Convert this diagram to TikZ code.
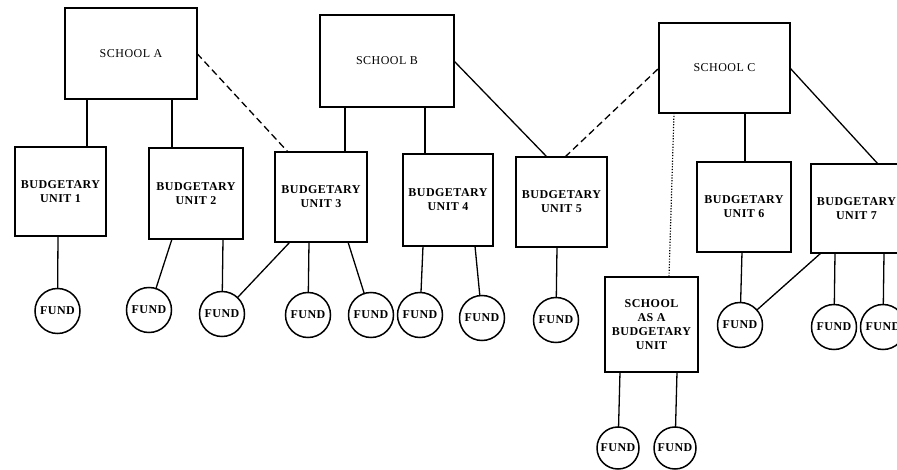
\documentclass[tikz,border=0pt]{standalone}
\usepackage{fontspec}
\setmainfont{Liberation Serif}[LetterSpace=4]
\begin{document}
\begin{tikzpicture}[x=1pt,y=-1pt,
  box/.style={draw,line width=1.6pt,inner sep=0pt,outer sep=0pt,align=center,font=\fontsize{12}{14}\selectfont},
  unitbox/.style={box,font=\fontsize{12}{14}\selectfont\bfseries},
  fund/.style={draw,circle,line width=1.5pt,minimum size=45pt,inner sep=0pt,outer sep=0pt,font=\fontsize{12}{14}\selectfont\bfseries},
  link/.style={line width=1.3pt},
  dlink/.style={line width=1.3pt,dash pattern=on 7pt off 4pt},
  olink/.style={line width=1.2pt,dash pattern=on 1.2pt off 1.6pt}]
\useasboundingbox (0,0) rectangle (897,470);
\clip (0,0) rectangle (897,470);
% schools
\node[box,minimum width=132pt,minimum height=91pt] (sa) at (131,53.5) {SCHOOL A};
\node[box,minimum width=134pt,minimum height=92pt] (sb) at (387,61) {SCHOOL B};
\node[box,minimum width=131pt,minimum height=90pt] (sc) at (724.5,68) {SCHOOL C};
% budgetary units
\node[unitbox,minimum width=91pt,minimum height=89pt] (u1) at (60.5,191.5) {BUDGETARY\\UNIT 1};
\node[unitbox,minimum width=94pt,minimum height=91pt] (u2) at (196,193.5) {BUDGETARY\\UNIT 2};
\node[unitbox,minimum width=92pt,minimum height=90pt] (u3) at (321,197) {BUDGETARY\\UNIT 3};
\node[unitbox,minimum width=90pt,minimum height=92pt] (u4) at (448,200) {BUDGETARY\\UNIT 4};
\node[unitbox,minimum width=91pt,minimum height=90pt] (u5) at (561.5,202) {BUDGETARY\\UNIT 5};
\node[unitbox,minimum width=94pt,minimum height=90pt] (u6) at (744,207) {BUDGETARY\\UNIT 6};
\node[unitbox,minimum width=91pt,minimum height=89pt] (u7) at (856.5,208.5) {BUDGETARY\\UNIT 7};
\node[unitbox,minimum width=93pt,minimum height=95pt] (us) at (651.5,324.5) {SCHOOL\\AS A\\BUDGETARY\\UNIT};
% funds
\node[fund] (f1) at (57.5,311) {FUND};
\node[fund] (f2) at (149,310) {FUND};
\node[fund] (f3) at (222,314) {FUND};
\node[fund] (f4) at (308,315) {FUND};
\node[fund] (f5) at (371,315) {FUND};
\node[fund] (f6) at (420,315) {FUND};
\node[fund] (f7) at (482,318) {FUND};
\node[fund] (f8) at (556,320) {FUND};
\node[fund] (f9) at (740,325) {FUND};
\node[fund] (f10) at (834,327) {FUND};
\node[fund] (f11) at (883,327) {FUND};
\node[fund,minimum size=42pt] (f12) at (618,448) {FUND};
\node[fund,minimum size=42pt] (f13) at (675,448) {FUND};
% school to unit links
\draw[link] ([xshift=22pt]sa.south west) -- ([xshift=72pt]u1.north west);
\draw[link] ([xshift=107pt]sa.south west) -- ([xshift=23pt]u2.north west);
\draw[dlink] (sa.east) -- ([xshift=13pt]u3.north west);
\draw[link] ([xshift=25pt]sb.south west) -- ([xshift=70pt]u3.north west);
\draw[link] ([xshift=105pt]sb.south west) -- ([xshift=22pt]u4.north west);
\draw[link] (sb.east) -- ([xshift=31pt]u5.north west);
\draw[dlink] ([xshift=49pt]u5.north west) -- (sc.west);
\draw[olink] ([xshift=15pt]sc.south west) -- ([xshift=64pt]us.north west);
\draw[link] ([xshift=86pt]sc.south west) -- ([xshift=48pt]u6.north west);
\draw[link] (sc.east) -- ([xshift=67pt]u7.north west);
% unit to fund links
\draw[link] ([xshift=43pt]u1.south west) -- (f1);
\draw[link] ([xshift=23pt]u2.south west) -- (f2);
\draw[link] ([xshift=74pt]u2.south west) -- (f3);
\draw[link] ([xshift=15pt]u3.south west) -- (f3);
\draw[link] ([xshift=34pt]u3.south west) -- (f4);
\draw[link] ([xshift=73pt]u3.south west) -- (f5);
\draw[link] ([xshift=20pt]u4.south west) -- (f6);
\draw[link] ([xshift=72pt]u4.south west) -- (f7);
\draw[link] ([xshift=41pt]u5.south west) -- (f8);
\draw[link] ([xshift=45pt]u6.south west) -- (f9);
\draw[link] ([xshift=10pt]u7.south west) -- (f9);
\draw[link] ([xshift=24pt]u7.south west) -- (f10);
\draw[link] ([xshift=73pt]u7.south west) -- (f11);
\draw[link] ([xshift=15pt]us.south west) -- (f12);
\draw[link] ([xshift=72pt]us.south west) -- (f13);
\end{tikzpicture}
\end{document}
